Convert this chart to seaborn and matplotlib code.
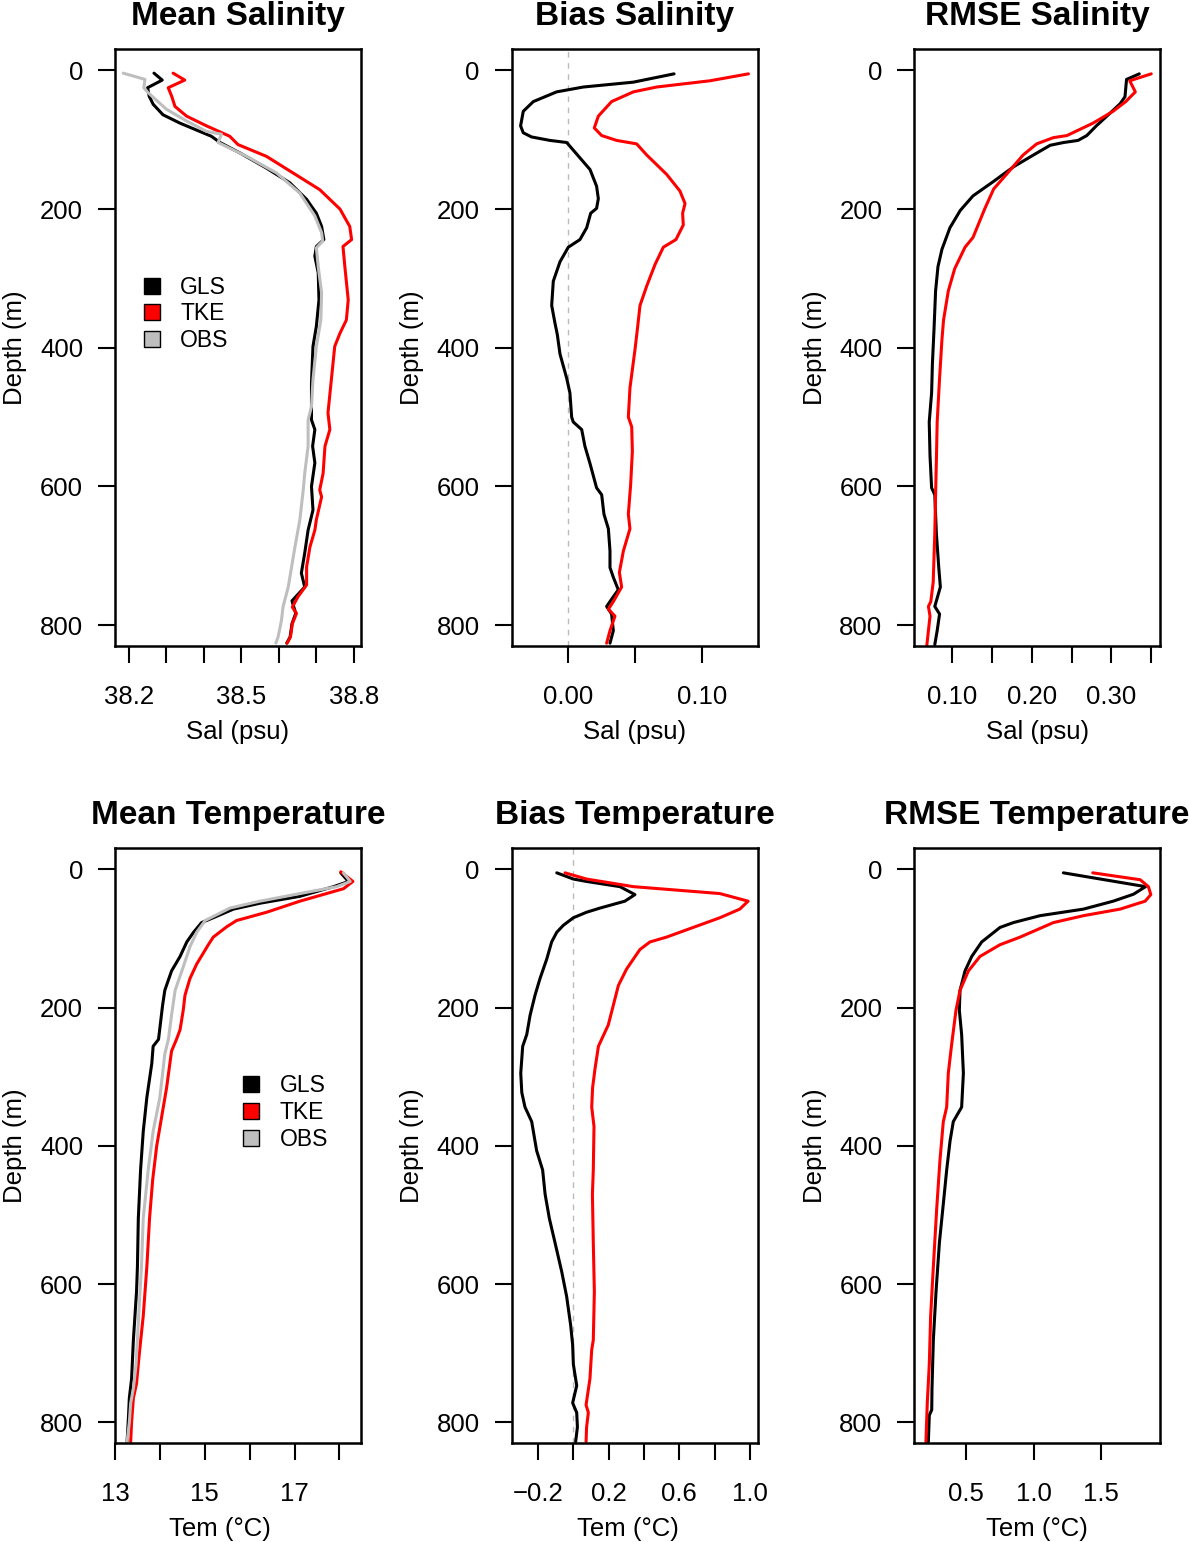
import matplotlib
matplotlib.use("Agg")
import pandas as pd
import matplotlib.pyplot as plt
import seaborn as sns
from matplotlib.lines import Line2D


# ---- Mean Salinity (psu) ----
msal_gls_d = [4, 14, 25, 37, 49, 64, 76, 88, 95, 104, 119, 141, 162, 186, 206, 225, 244, 254, 268, 292,
              331, 369, 398, 451, 504, 518, 542, 566, 600, 634, 663, 696, 725, 745, 765, 783, 798, 817, 826]
msal_gls_v = [38.267, 38.289, 38.250, 38.254, 38.265, 38.291, 38.336, 38.389, 38.420, 38.443, 38.496, 38.567,
              38.629, 38.674, 38.700, 38.714, 38.720, 38.700, 38.696, 38.705, 38.707, 38.700, 38.691, 38.687,
              38.687, 38.696, 38.690, 38.696, 38.687, 38.691, 38.678, 38.669, 38.660, 38.669, 38.635, 38.645,
              38.635, 38.630, 38.621]
msal_tke_d = [4, 14, 25, 37, 52, 66, 80, 95, 107, 124, 148, 172, 200, 225, 244, 254, 283, 331, 360, 379,
              398, 446, 494, 518, 542, 581, 605, 615, 648, 663, 687, 716, 742, 759, 774, 783, 798, 817, 826]
msal_tke_v = [38.318, 38.349, 38.305, 38.314, 38.323, 38.354, 38.407, 38.469, 38.491, 38.567, 38.638, 38.709,
              38.763, 38.789, 38.794, 38.771, 38.776, 38.785, 38.780, 38.763, 38.749, 38.740, 38.731, 38.736,
              38.723, 38.718, 38.709, 38.714, 38.700, 38.696, 38.683, 38.674, 38.674, 38.651, 38.636, 38.647,
              38.636, 38.631, 38.622]
msal_obs_d = [4, 13, 25, 32, 56, 73, 88, 92, 104, 124, 148, 177, 210, 234, 246, 256, 283, 321, 360, 398,
              446, 485, 504, 542, 581, 605, 648, 687, 716, 745, 774, 793, 817, 826]
msal_obs_v = [38.185, 38.243, 38.240, 38.251, 38.300, 38.354, 38.407, 38.447, 38.438, 38.514, 38.594, 38.656,
              38.696, 38.714, 38.717, 38.700, 38.705, 38.714, 38.712, 38.700, 38.691, 38.687, 38.678, 38.678,
              38.669, 38.665, 38.656, 38.643, 38.634, 38.625, 38.611, 38.607, 38.598, 38.592]

# ---- Bias Salinity (psu) ----
bsal_gls_d = [5, 17, 24, 31, 45, 59, 80, 90, 96, 101, 104, 115, 143, 167, 185, 199, 206, 227, 244, 255,
              276, 304, 339, 364, 381, 409, 444, 465, 500, 507, 518, 542, 567, 602, 612, 640, 661, 693, 717, 731,
              749, 759, 773, 784, 808, 826]
bsal_gls_v = [0.0789, 0.0485, 0.0112, -0.0087, -0.0261, -0.0336, -0.0356, -0.0336, -0.0274, -0.0137,
              -0.0012, 0.0037, 0.0162, 0.0211, 0.0224, 0.0211, 0.0167, 0.0137, 0.0087, 0.0000,
              -0.0062, -0.0112, -0.0124, -0.0100, -0.0082, -0.0062, -0.0012, 0.0012, 0.0025, 0.0037,
              0.0100, 0.0124, 0.0162, 0.0211, 0.0249, 0.0266, 0.0299, 0.0311, 0.0311, 0.0336,
              0.0373, 0.0336, 0.0286, 0.0323, 0.0336, 0.0311]
bsal_tke_d = [5, 15, 24, 31, 45, 66, 83, 94, 101, 106, 122, 150, 174, 192, 206, 223, 244, 255, 280, 311,
              339, 374, 402, 458, 500, 514, 549, 598, 640, 661, 693, 724, 745, 766, 777, 787, 808, 826]
bsal_tke_v = [0.1344, 0.1057, 0.0659, 0.0485, 0.0323, 0.0224, 0.0194, 0.0249, 0.0361, 0.0510,
              0.0585, 0.0734, 0.0833, 0.0871, 0.0853, 0.0858, 0.0803, 0.0709, 0.0647, 0.0585,
              0.0535, 0.0515, 0.0498, 0.0460, 0.0448, 0.0473, 0.0478, 0.0465, 0.0448, 0.0460,
              0.0411, 0.0381, 0.0398, 0.0336, 0.0299, 0.0348, 0.0311, 0.0286]

# ---- RMSE Salinity (psu) ----
rsal_gls_d = [5, 13, 38, 48, 62, 80, 94, 101, 104, 108, 122, 139, 160, 181, 202, 227, 258, 283, 318, 374,
              423, 465, 507, 556, 602, 612, 668, 717, 745, 773, 784, 808, 828]
rsal_gls_v = [0.335, 0.319, 0.317, 0.311, 0.298, 0.281, 0.269, 0.258, 0.240, 0.223, 0.202, 0.177, 0.152,
              0.126, 0.110, 0.097, 0.087, 0.082, 0.079, 0.077, 0.075, 0.074, 0.071, 0.072, 0.074, 0.078,
              0.080, 0.083, 0.085, 0.078, 0.084, 0.081, 0.078]
rsal_tke_d = [5, 15, 31, 45, 59, 76, 94, 97, 106, 122, 150, 171, 199, 241, 255, 286, 318, 360, 388, 444,
              507, 563, 612, 668, 738, 766, 773, 787, 808, 829]
rsal_tke_v = [0.350, 0.323, 0.330, 0.318, 0.302, 0.277, 0.244, 0.227, 0.206, 0.189, 0.168, 0.152, 0.141,
              0.126, 0.116, 0.103, 0.095, 0.089, 0.087, 0.084, 0.081, 0.080, 0.079, 0.078, 0.076, 0.073,
              0.070, 0.072, 0.070, 0.068]

# ---- Mean Temperature (C) ----
mtem_gls_d = [5, 17.5, 25, 39, 49, 57.5, 70, 77, 91, 105, 126, 147, 175, 197, 246, 256, 281, 330, 379, 435,
              505, 575, 611, 681, 737, 765, 793, 828]
mtem_gls_v = [18.03, 18.20, 17.87, 17.12, 16.23, 15.64, 15.19, 14.93, 14.75, 14.60, 14.45, 14.26, 14.11,
              14.06, 13.97, 13.85, 13.82, 13.71, 13.63, 13.57, 13.52, 13.50, 13.48, 13.41, 13.37, 13.32,
              13.30, 13.27]
mtem_tke_d = [3.5, 17.5, 28, 46, 62, 74, 83, 98, 109, 137, 158, 182, 204, 232, 246, 263, 316, 358, 400, 449,
              505, 575, 646, 702, 744, 765, 800, 828]
mtem_tke_v = [18.03, 18.30, 18.09, 17.12, 16.38, 15.71, 15.49, 15.19, 15.08, 14.82, 14.67, 14.56, 14.52,
              14.45, 14.37, 14.26, 14.15, 14.04, 13.93, 13.84, 13.77, 13.71, 13.63, 13.54, 13.48, 13.41,
              13.37, 13.35]
mtem_obs_d = [5, 17.5, 25, 35, 46, 56, 74, 91, 112, 147, 175, 211, 246, 267, 330, 379, 435, 505, 575, 632,
              716, 751, 772, 800, 828]
mtem_obs_v = [18.09, 18.24, 17.94, 17.12, 16.23, 15.56, 15.01, 14.82, 14.67, 14.49, 14.34, 14.26, 14.19,
              14.11, 14.00, 13.85, 13.74, 13.63, 13.59, 13.54, 13.47, 13.41, 13.35, 13.32, 13.27]

# ---- Bias Temperature (C) ----
btem_gls_d = [5, 14, 17.5, 25, 36.5, 46, 56, 62, 70, 81, 91, 105, 130, 158, 182, 211, 239, 256, 295, 323,
              344, 365, 407, 435, 470, 505, 540, 582, 618, 660, 688, 716, 747, 772, 786, 807, 828]
btem_gls_v = [-0.094, 0.0, 0.075, 0.264, 0.349, 0.292, 0.151, 0.075, 0.0, -0.057,
              -0.094, -0.123, -0.151, -0.189, -0.217, -0.245, -0.264, -0.287, -0.298, -0.292,
              -0.274, -0.236, -0.208, -0.174, -0.160, -0.136, -0.104, -0.066, -0.038, -0.015,
              -0.004, 0.0, 0.019, -0.004, 0.019, 0.023, 0.013]
btem_tke_d = [5, 14, 25, 35, 46, 57.5, 70, 84, 98, 105, 116, 144, 168, 197, 225, 246, 256, 288, 316, 344,
              372, 435, 470, 540, 611, 681, 695, 737, 775, 786, 807, 828]
btem_tke_v = [-0.047, 0.075, 0.34, 0.83, 0.99, 0.943, 0.83, 0.679, 0.528, 0.434,
              0.377, 0.302, 0.255, 0.226, 0.198, 0.160, 0.142, 0.123, 0.109, 0.104,
              0.117, 0.113, 0.108, 0.113, 0.119, 0.113, 0.104, 0.094, 0.072, 0.085, 0.075, 0.072]

# ---- RMSE Temperature (C) ----
rtem_gls_d = [5, 25, 36, 46, 57.5, 67, 77, 84, 105, 126, 147, 175, 204, 239, 295, 344, 365, 393, 435, 484,
              540, 611, 681, 751, 782, 790, 828]
rtem_gls_v = [1.220, 1.830, 1.740, 1.590, 1.369, 1.047, 0.849, 0.750, 0.614, 0.540, 0.490, 0.453, 0.448,
              0.465, 0.478, 0.465, 0.403, 0.379, 0.354, 0.329, 0.300, 0.275, 0.255, 0.245, 0.243, 0.225, 0.218]
rtem_tke_d = [5, 15, 25, 36.5, 46, 57.5, 67, 77, 98, 109, 126, 147, 175, 204, 253, 295, 344, 365, 421, 491,
              575, 646, 716, 772, 828]
rtem_tke_v = [1.438, 1.790, 1.851, 1.869, 1.827, 1.641, 1.369, 1.146, 0.899, 0.750, 0.601, 0.515, 0.453,
              0.423, 0.391, 0.366, 0.354, 0.329, 0.304, 0.280, 0.255, 0.235, 0.225, 0.210, 0.200]

depth_ticks = [0, 200, 400, 600, 800]
runs = ['GLS', 'TKE', 'OBS']
colors = {'GLS': 'black', 'TKE': '#FF0000', 'OBS': '#BEBEBE'}


sns.set_style("ticks")
plt.rcParams['font.family'] = ['Liberation Sans', 'DejaVu Sans']
plt.rcParams['axes.unicode_minus'] = True
plt.rcParams['text.color'] = 'black'
plt.rcParams['axes.labelcolor'] = 'black'
plt.rcParams['xtick.color'] = 'black'
plt.rcParams['ytick.color'] = 'black'
plt.rcParams['axes.edgecolor'] = 'black'

fig = plt.figure(figsize=(11.89, 15.42), dpi=100)


def make_df(series):
    frames = [pd.DataFrame({'depth': d, 'value': v, 'run': name}) for name, d, v in series]
    return pd.concat(frames, ignore_index=True)


def panel(pos, title, series, xlim, xticks, xticklabels, xlabel, zero=False, legend_x=None, xlabel_x=0.5):
    ax = fig.add_axes(pos)
    df = make_df(series)
    names = [s[0] for s in series]
    if zero:
        ax.axvline(0, color='#BBBBBB', lw=1.0, ls=(0, (4, 4)), zorder=1)
    sns.lineplot(data=df, x='value', y='depth', hue='run', hue_order=names, palette=colors,
                 estimator=None, sort=False, orient='y', linewidth=2.2, legend=False, ax=ax)
    ax.set_xlim(xlim)
    ax.set_ylim(830, -31)
    ax.set_yticks(depth_ticks)
    ax.set_yticklabels([str(t) for t in depth_ticks])
    ax.set_xticks(xticks)
    ax.set_xticklabels(xticklabels)
    ax.tick_params(direction='out', length=12, width=1.5, labelsize=18.5, color='black',
                   labelcolor='black', bottom=True, left=True)
    ax.tick_params(axis='x', pad=16)
    ax.tick_params(axis='y', pad=11)
    for sp in ax.spines.values():
        sp.set_visible(True)
        sp.set_linewidth(1.8)
        sp.set_color('black')
    ax.set_xlabel(xlabel, fontsize=18.5, labelpad=8, color='black')
    if xlabel_x != 0.5:
        ax.xaxis.label.set_x(xlabel_x)
    ax.set_ylabel('Depth (m)', fontsize=18.5, labelpad=9, color='black')
    ax.set_title(title, fontsize=24, fontweight='bold', pad=17, color='black')
    if legend_x is not None:
        handles = [Line2D([], [], marker='s', ls='none', markersize=12, markerfacecolor=colors[n],
                          markeredgecolor='black', markeredgewidth=1, label=n) for n in runs]
        leg = ax.legend(handles=handles, loc='center left', bbox_to_anchor=(legend_x, 0.556),
                        frameon=False, fontsize=16.5, handlelength=0.8, handletextpad=0.85,
                        labelspacing=0.17, borderpad=0, borderaxespad=0)
        for t in leg.get_texts():
            t.set_color('black')
    return ax


top_b, top_h = 0.5811, 0.3872
bot_b, bot_h = 0.0642, 0.3859
cols = [(0.0967, 0.2069), (0.4304, 0.2074), (0.7690, 0.2066)]

panel([cols[0][0], top_b, cols[0][1], top_h], 'Mean Salinity',
      [('GLS', msal_gls_d, msal_gls_v), ('TKE', msal_tke_d, msal_tke_v), ('OBS', msal_obs_d, msal_obs_v)],
      (38.163, 38.819), [38.2, 38.3, 38.4, 38.5, 38.6, 38.7, 38.8],
      ['38.2', '', '', '38.5', '', '', '38.8'], 'Sal (psu)', legend_x=0.112)

panel([cols[1][0], top_b, cols[1][1], top_h], 'Bias Salinity',
      [('GLS', bsal_gls_d, bsal_gls_v), ('TKE', bsal_tke_d, bsal_tke_v)],
      (-0.0422, 0.1418), [0.0, 0.05, 0.10], ['0.00', '', '0.10'], 'Sal (psu)', zero=True)

panel([cols[2][0], top_b, cols[2][1], top_h], 'RMSE Salinity',
      [('GLS', rsal_gls_d, rsal_gls_v), ('TKE', rsal_tke_d, rsal_tke_v)],
      (0.0523, 0.361), [0.10, 0.15, 0.20, 0.25, 0.30, 0.35],
      ['0.10', '', '0.20', '', '0.30', ''], 'Sal (psu)')

panel([cols[0][0], bot_b, cols[0][1], bot_h], 'Mean Temperature',
      [('GLS', mtem_gls_d, mtem_gls_v), ('TKE', mtem_tke_d, mtem_tke_v), ('OBS', mtem_obs_d, mtem_obs_v)],
      (13.0, 18.48), [13, 14, 15, 16, 17, 18], ['13', '', '15', '', '17', ''],
      'Tem (\u00b0C)', legend_x=0.516, xlabel_x=0.425)

panel([cols[1][0], bot_b, cols[1][1], bot_h], 'Bias Temperature',
      [('GLS', btem_gls_d, btem_gls_v), ('TKE', btem_tke_d, btem_tke_v)],
      (-0.349, 1.048), [-0.2, 0.0, 0.2, 0.4, 0.6, 0.8, 1.0],
      ['\u22120.2', '', '0.2', '', '0.6', '', '1.0'], 'Tem (\u00b0C)', zero=True, xlabel_x=0.47)

panel([cols[2][0], bot_b, cols[2][1], bot_h], 'RMSE Temperature',
      [('GLS', rtem_gls_d, rtem_gls_v), ('TKE', rtem_tke_d, rtem_tke_v)],
      (0.114, 1.937), [0.5, 1.0, 1.5], ['0.5', '1.0', '1.5'], 'Tem (\u00b0C)')

fig.savefig('out.png', dpi=100)
